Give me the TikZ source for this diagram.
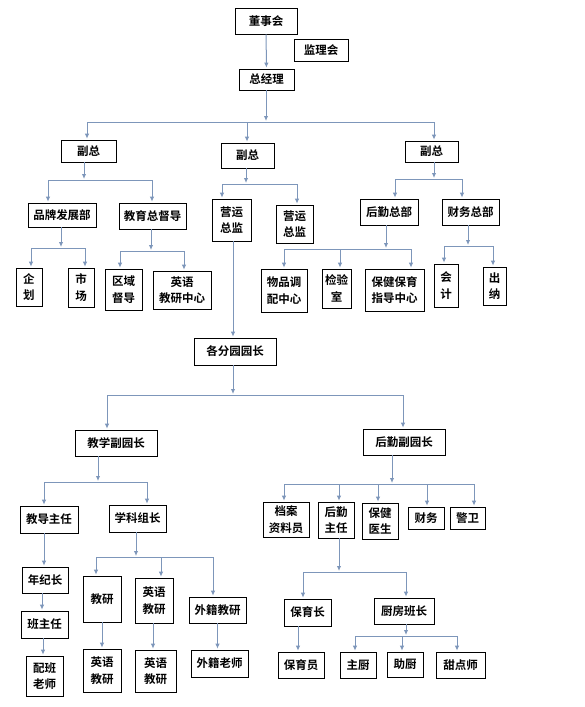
\documentclass[tikz,border=0pt]{standalone}
\usepackage{fontspec}
\newfontfamily\cjk{Noto Sans CJK SC}[BoldFont={Noto Sans CJK SC Bold}]
\usetikzlibrary{arrows.meta, positioning}
\definecolor{linkblue}{RGB}{125,150,186}
\tikzset{
    box/.style = {draw, line width=0.7pt, align=center, inner sep=1pt,
                  font=\cjk\bfseries\fontsize{11.5}{16.5}\selectfont}, % every unit of the chart
    wh/.style 2 args = {minimum width=#1pt, minimum height=#2pt},
    bus/.style = {draw=linkblue, line width=1pt}, % horizontal branching line
    arr/.style = {bus, -{Latex[length=5pt,width=4.5pt]}, shorten >=1pt}
}
\begin{document}
\begin{tikzpicture}[x=1pt, y=-1pt]
\useasboundingbox (0,0) rectangle (584,707);
% board and general manager
\node[box, wh={62}{26}] (dsh) at (266,21) {董事会};
\node[box, wh={54}{22}] (jlh) at (321,50) {监理会};
\node[box, wh={55}{21}] (zjl) at (266.5,79.5) {总经理};
% vice presidents
\node[box, wh={55}{22}] (fz1) at (88.5,151) {副总};
\node[box, wh={53}{25}] (fz2) at (247.5,155.5) {副总};
\node[box, wh={53}{21}] (fz3) at (431.5,151.5) {副总};
% departments
\node[box, wh={68}{24}] (ppfz) at (62,215) {品牌发展部};
\node[box, wh={67}{26}] (jyzdd) at (152.5,216) {教育总督导};
\node[box, wh={39}{42}] (yyzj1) at (231.5,220) {营运\\总监};
\node[box, wh={37}{38}] (yyzj2) at (294.5,224) {营运\\总监};
\node[box, wh={58}{26}] (hqzb) at (389,212) {后勤总部};
\node[box, wh={57}{26}] (cwzb) at (470.5,212) {财务总部};
\node[box, wh={26}{38}] (qh) at (29,287) {企\\划};
\node[box, wh={26}{39}] (sc) at (81,287.5) {市\\场};
\node[box, wh={37}{41}] (qydd) at (123.5,289.5) {区域\\督导};
\node[box, wh={58}{38}] (yyjyzx) at (182,290) {英语\\教研中心};
\node[box, wh={46}{43}] (wptp) at (284,290.5) {物品调\\配中心};
\node[box, wh={29}{39}] (jys) at (336.5,288.5) {检验\\室};
\node[box, wh={59}{42}] (bjby) at (394.5,290) {保健保育\\指导中心};
\node[box, wh={24}{43}] (kj) at (446,285.5) {会\\计};
\node[box, wh={23}{38}] (cn) at (494.5,286) {出\\纳};
% kindergartens
\node[box, wh={82}{27}] (gfyz) at (235,351.5) {各分园园长};
\node[box, wh={82}{26}] (jxfyz) at (116,443) {教学副园长};
\node[box, wh={82}{26}] (hqfyz) at (404,442) {后勤副园长};
\node[box, wh={58}{27}] (jdzr) at (49,519.5) {教导主任};
\node[box, wh={57}{27}] (xkzz) at (137.5,518.5) {学科组长};
\node[box, wh={46}{35}] (dazly) at (286,519.5) {档案\\资料员};
\node[box, wh={36}{36}] (hqzr) at (336,520) {后勤\\主任};
\node[box, wh={36}{36}] (bjys) at (380,521) {保健\\医生};
\node[box, wh={36}{22}] (cw) at (426,518) {财务};
\node[box, wh={35}{22}] (jw) at (467.5,518) {警卫};
\node[box, wh={46}{26}] (njz) at (45,580) {年纪长};
\node[box, wh={47}{27}] (bzr) at (44.5,624.5) {班主任};
\node[box, wh={37}{40}] (pbls) at (44.5,676) {配班\\老师};
\node[box, wh={38}{46}] (jy) at (102,599) {教研};
\node[box, wh={38}{45}] (yyjy) at (154,600.5) {英语\\教研};
\node[box, wh={57}{26}] (wjjy) at (217.5,610) {外籍教研};
\node[box, wh={38}{43}] (yyjya) at (102,670.5) {英语\\教研};
\node[box, wh={41}{42}] (yyjyb) at (155.5,671) {英语\\教研};
\node[box, wh={57}{27}] (wjls) at (219.5,663.5) {外籍老师};
\node[box, wh={47}{27}] (byz) at (307.5,612.5) {保育长};
\node[box, wh={60}{26}] (cfbz) at (404,611) {厨房班长};
\node[box, wh={46}{26}] (byy) at (301,665) {保育员};
\node[box, wh={36}{26}] (zc) at (358,665) {主厨};
\node[box, wh={36}{25}] (zhc) at (405,664.5) {助厨};
\node[box, wh={49}{26}] (tds) at (460.5,665) {甜点师};

% single arrows
\draw[arr] (dsh) -- (zjl);
\draw[arr] ([xshift=1.5pt]yyzj1.south) -- ([xshift=1.5pt]yyzj1.south |- gfyz.north);
\draw[arr] ([xshift=-5pt]jdzr.south) -- ([xshift=-5pt]jdzr.south |- njz.north);
\draw[arr] ([xshift=-3pt]njz.south) -- ([xshift=-3pt]njz.south |- bzr.north);
\draw[arr] ([xshift=-1.5pt]bzr.south) -- ([xshift=-1.5pt]bzr.south |- pbls.north);
\draw[arr] (jy) -- (yyjya);
\draw[arr] ([xshift=-1pt]yyjy.south) -- ([xshift=-1pt]yyjy.south |- yyjyb.north);
\draw[arr] (wjjy) -- (wjjy |- wjls.north);
\draw[arr] ([xshift=-9.5pt]byz.south) -- ([xshift=-9.5pt]byz.south |- byy.north);

% branching: parent -> bus -> children
\foreach \p/\px/\y/\kids in {
    zjl/266/122/{87/fz1,247/fz2,434/fz3},
    fz1/84/180/{48/ppfz,152/jyzdd},
    fz2/246/184/{222/yyzj1,297/yyzj2},
    fz3/434/179/{395/hqzb,462/cwzb},
    ppfz/61/248/{31/qh,85/sc},
    jyzdd/151/251/{120/qydd,184/yyjyzx},
    hqzb/386/249/{284/wptp,340/jys,411/bjby},
    cwzb/468/246/{444/kj,493/cn},
    gfyz/233/395/{107/jxfyz,403/hqfyz},
    jxfyz/98/482/{44/jdzr,147/xkzz},
    hqfyz/392/484/{284/dazly,339/hqzr,378/bjys,427/cw,474/jw},
    xkzz/136/557/{96/jy,161/yyjy,213/wjjy},
    hqzr/339/572/{303/byz,406/cfbz},
    cfbz/406/636/{355/zc,402/zhc,457/tds}} {
  \coordinate (j-\p) at (\px,\y);
  \draw[arr] (j-\p |- \p.south) -- (j-\p);
  \foreach \kx/\k [count=\i] in \kids {
    \coordinate (t-\k) at (\kx,\y);
    \draw[arr] (t-\k) -- (t-\k |- \k.north);
    \ifnum\i=1 \global\let\firstkid\k \fi
    \global\let\lastkid\k
  }
  \draw[bus] (t-\firstkid) -- (t-\lastkid);
}
\end{tikzpicture}
\end{document}
